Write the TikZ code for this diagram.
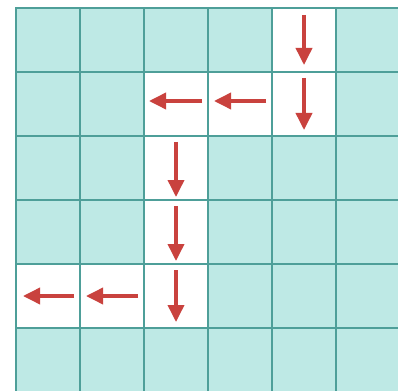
\documentclass[tikz,border=0pt]{standalone}
\usetikzlibrary{arrows.meta}
\definecolor{cellfill}{HTML}{BEE9E5}
\definecolor{gridline}{HTML}{4E9F99}
\definecolor{arrowred}{HTML}{C9423E}
\begin{document}
\begin{tikzpicture}[x=1pt,y=-1pt,
  cell/.style={draw=gridline,line width=1.6pt,fill=cellfill,minimum size=64pt,inner sep=0pt,outer sep=0pt},
  pathcell/.style={cell,fill=white},
  arr/.style={draw=arrowred,line width=3.6pt,-{Triangle[length=17pt,width=16pt]}}]
\useasboundingbox[fill=white] (0,0) rectangle (398,390);
\begin{scope}
\clip (0,0) rectangle (398,390);
\foreach \c in {0,...,5}{
  \foreach \r in {0,...,5}{
    \node[cell] (c\c\r) at ({16+64*\c+32},{8+64*\r+32}) {};
  }
}
\foreach \c/\r in {4/0,4/1,3/1,2/1,2/2,2/3,2/4,1/4,0/4}{
  \node[pathcell] (p\c\r) at ({16+64*\c+32},{8+64*\r+32}) {};
}
\end{scope}
% down arrows
\draw[arr] ([yshift=-7pt]p40.north) -- ([yshift=7pt]p40.south);
\draw[arr] ([yshift=-6pt]p41.north) -- ([yshift=6pt]p41.south);
\draw[arr] ([yshift=-6pt]p22.north) -- ([yshift=3pt]p22.south);
\draw[arr] ([yshift=-6pt]p23.north) -- ([yshift=3pt]p23.south);
\draw[arr] ([yshift=-6pt]p24.north) -- ([yshift=6pt]p24.south);
% left arrows
\draw[arr] ([xshift=-6pt,yshift=3pt]p31.east) -- ([xshift=6pt,yshift=3pt]p31.west);
\draw[arr] ([xshift=-6pt,yshift=3pt]p21.east) -- ([xshift=5pt,yshift=3pt]p21.west);
\draw[arr] ([xshift=-6pt]p14.east) -- ([xshift=6pt]p14.west);
\draw[arr] ([xshift=-6pt]p04.east) -- ([xshift=7pt]p04.west);
\end{tikzpicture}
\end{document}
